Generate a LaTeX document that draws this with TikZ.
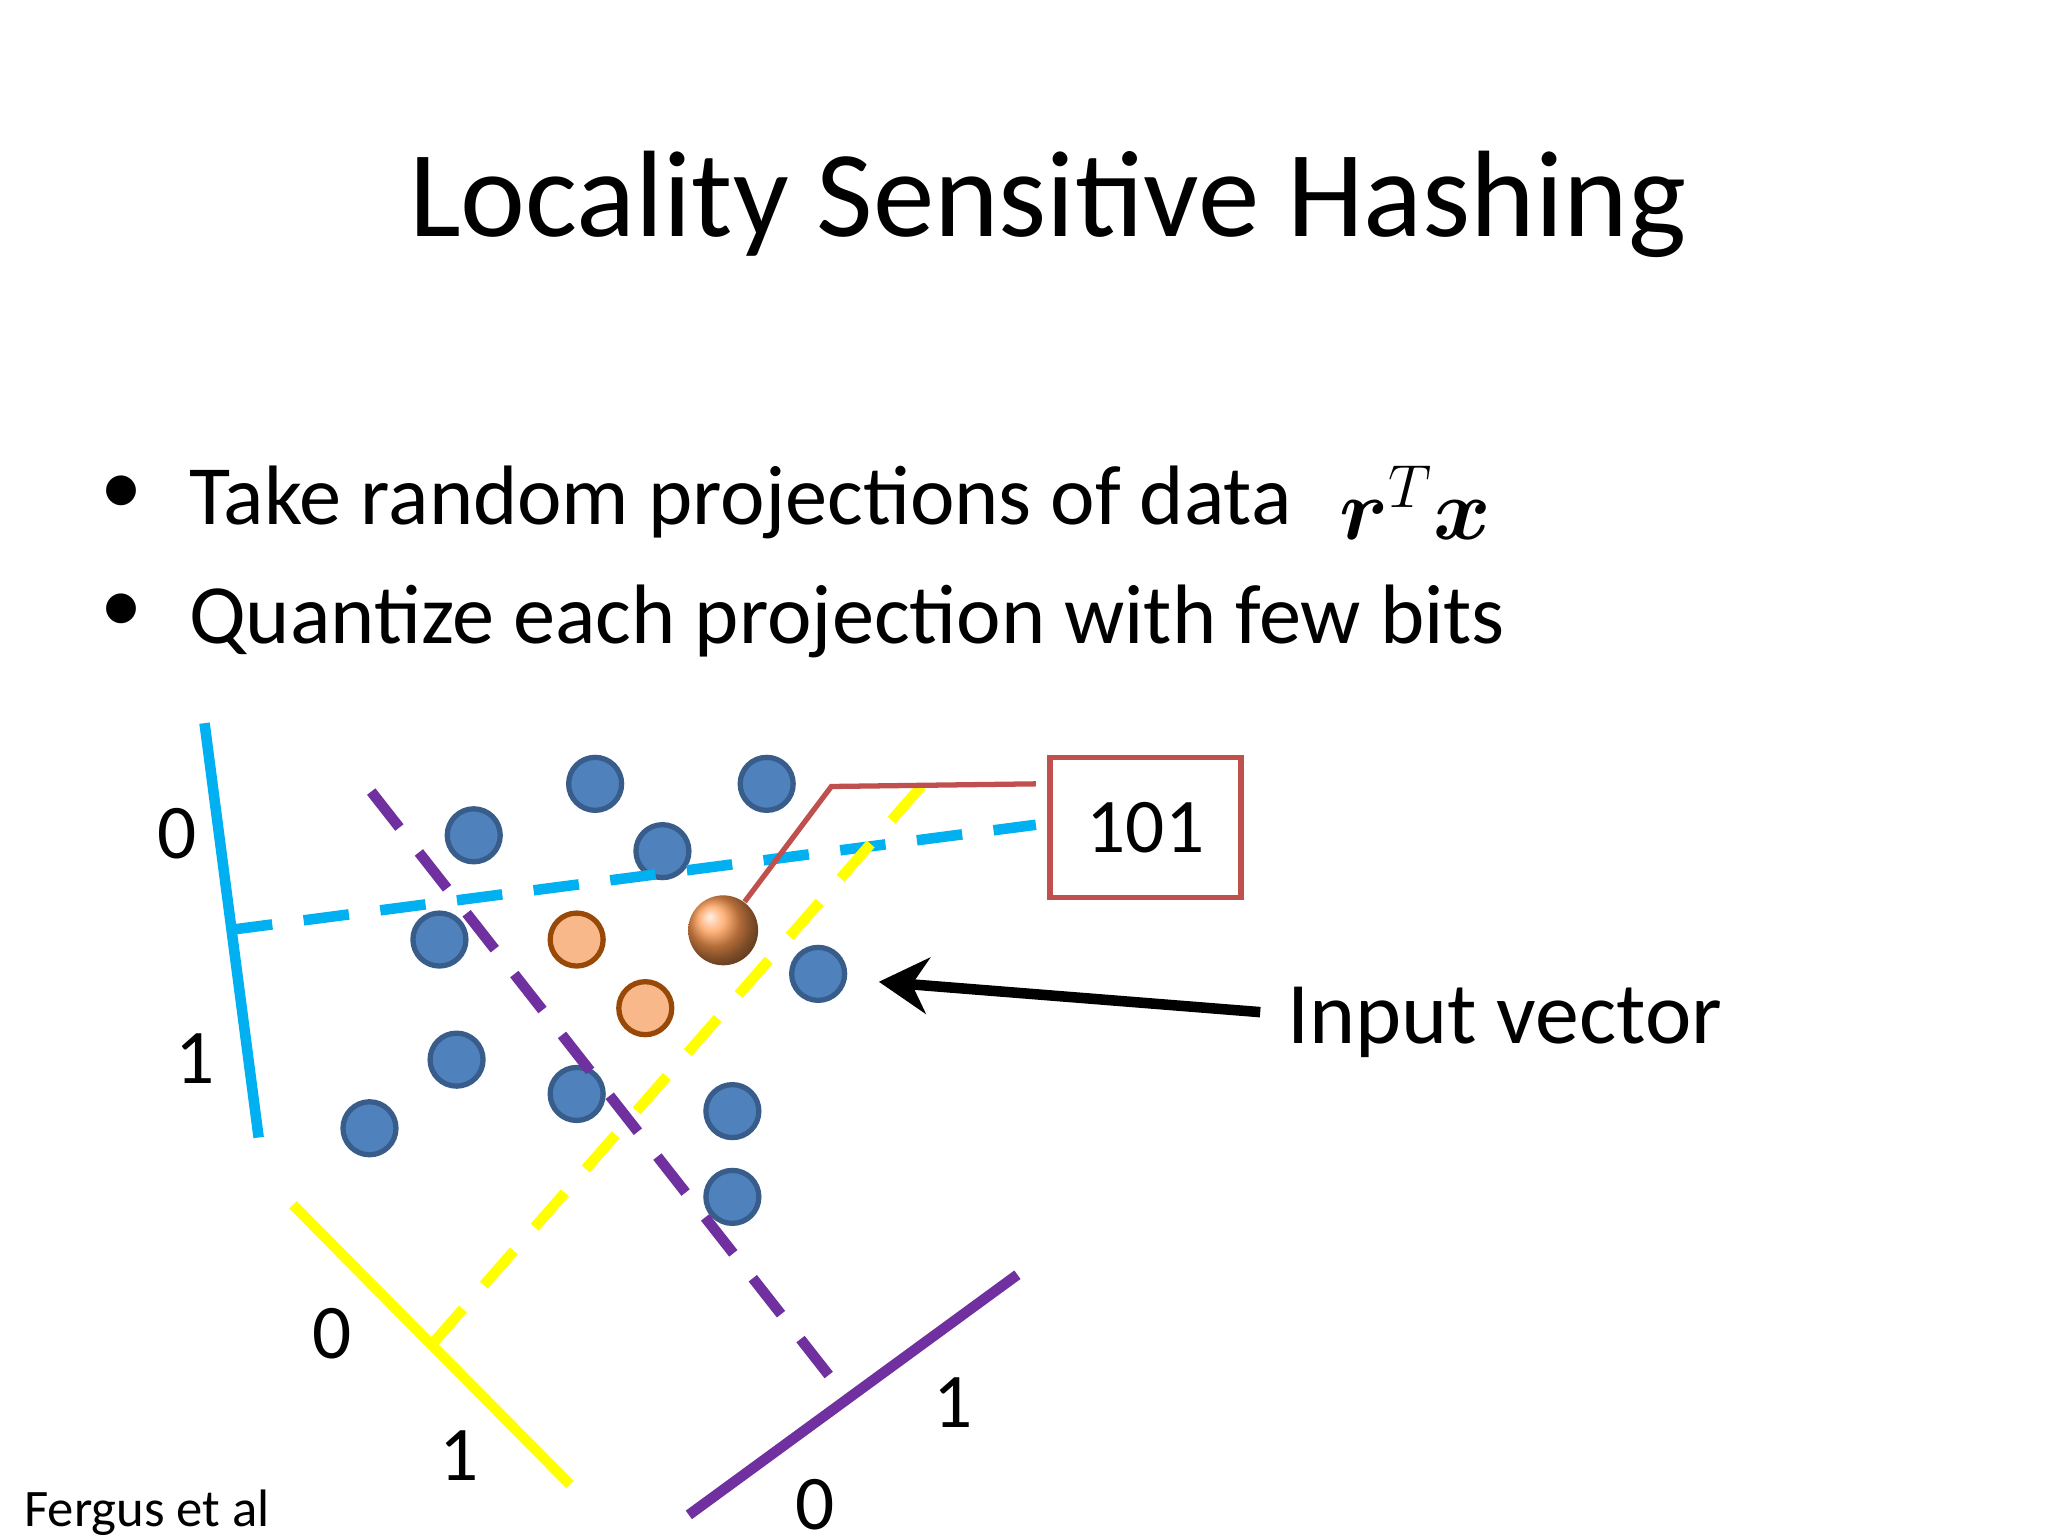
\documentclass[tikz,border=0pt]{standalone}
\usepackage{fontspec}
\setmainfont{Carlito}
\usepackage{amsmath,bm}
\usetikzlibrary{arrows.meta}
\definecolor{cblue}{HTML}{00B0F0}
\definecolor{cyel}{HTML}{FFFF00}
\definecolor{cpur}{HTML}{7030A0}
\definecolor{dotf}{HTML}{4F81BD}
\definecolor{dotd}{HTML}{385D8A}
\definecolor{redb}{HTML}{C0504D}
\definecolor{orf}{HTML}{F9B88A}
\definecolor{ord}{HTML}{984807}
\definecolor{ballc}{HTML}{FF9A50}
\tikzset{
  axisline/.style={line width=3pt},
  dashline/.style={line width=3pt, dash pattern=on 13pt off 9pt},
  dot/.style={circle, fill=dotf, draw=dotd, line width=1.5pt, minimum size=0.53cm, inner sep=0pt},
  odot/.style={circle, fill=orf, draw=ord, line width=1.5pt, minimum size=0.53cm, inner sep=0pt},
  lbl/.style={font=\fontsize{22}{26}\selectfont, inner sep=0pt},
}
\begin{document}
\begin{tikzpicture}[x=0.013196cm, y=-0.013196cm]
\useasboundingbox (0,0) rectangle (1552,1164);
\node[font=\fontsize{35}{42}\selectfont] (title) at (794,155) {Locality Sensitive Hashing};
\node[font=\fontsize{24}{28}\selectfont] (b1) at (92,375) {•};
\node[font=\fontsize{24}{28}\selectfont, anchor=west] (t1) at (134,381) {Take random projections of data};
\node[font=\fontsize{24}{28}\selectfont, anchor=west] (m1) at (1006,381) {$\bm{r}^T\bm{x}$};
\node[font=\fontsize{24}{28}\selectfont] (b2) at (92,465) {•};
\node[font=\fontsize{24}{28}\selectfont, anchor=west] (t2) at (134,471) {Quantize each projection with few bits};
% dots
\foreach \i/\p in {1/{(359,633)},2/{(451,594)},3/{(581,594)},4/{(502,645)},5/{(333,712)},6/{(620,738)},7/{(346,803)},8/{(437,829)},9/{(555,842)},10/{(280,855)},11/{(555,907)}}
  \node[dot] (d\i) at \p {};
\node[odot] (o1) at (437,712) {};
\node[odot] (o2) at (489,764) {};
% axes
\coordinate (ba) at (155,548); \coordinate (bb) at (196,862);
\coordinate (bs) at (172,705); \coordinate (be) at (785,625);
\draw[axisline, cblue] (ba) -- (bb);
\draw[dashline, cblue] (bs) -- (be);
\coordinate (ya) at (222,913); \coordinate (yb) at (432,1125);
\coordinate (ys) at (328,1018); \coordinate (ye) at (705,588);
\draw[axisline, cyel] (ya) -- (yb);
\draw[dashline, cyel] (ys) -- (ye);
\coordinate (pa) at (522,1148); \coordinate (pb) at (771,966);
\coordinate (ps) at (628,1042); \coordinate (pe) at (272,588);
\draw[axisline, cpur] (pa) -- (pb);
\draw[dashline, cpur] (ps) -- (pe);
% input ball
\node[circle, minimum size=0.7cm, inner sep=0pt, shading=ball, ball color=ballc] (ball) at (548,705) {};
% 101 box
\node[draw=redb, line width=1.5pt, minimum width=1.91cm, minimum height=1.4cm, lbl] (code) at (868,627) {101};
\coordinate (bend) at (630,596);
\coordinate (bend2) at (785,594);
\draw[redb, line width=1.5pt] (ball) -- (bend) -- (bend2);
% arrow
\node[font=\fontsize{25}{30}\selectfont, anchor=west] (iv) at (966,775) {Input vector};
\draw[line width=3pt, -{Stealth[length=14pt,width=16pt]}] (955,767) -- (666,744);
% labels
\node[lbl] (l1) at (134,632) {0};
\node[lbl] (l2) at (148,802) {1};
\node[lbl] (l3) at (252,1011) {0};
\node[lbl] (l4) at (348,1103) {1};
\node[lbl] (l5) at (722,1063) {1};
\node[lbl] (l6) at (618,1140) {0};
\node[font=\fontsize{15}{18}\selectfont, anchor=west, inner sep=0pt] (ref) at (18,1146) {Fergus et al};
\end{tikzpicture}
\end{document}
